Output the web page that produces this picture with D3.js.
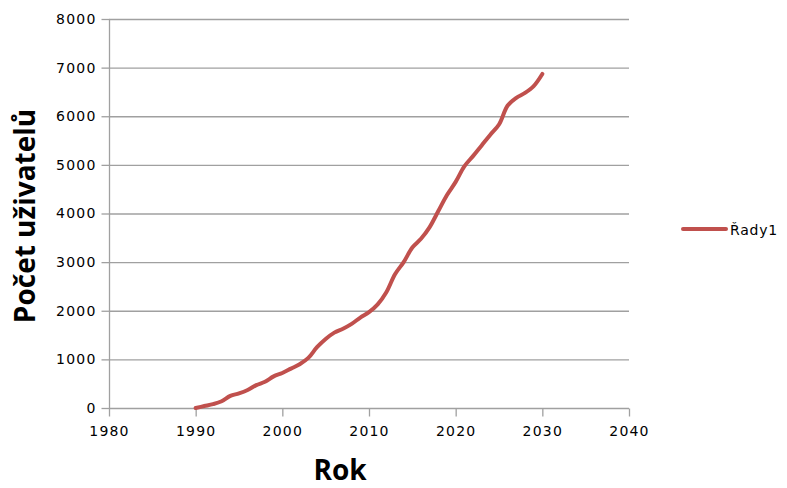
<!DOCTYPE html>
<html>
<head>
<meta charset="utf-8">
<script src="https://cdn.jsdelivr.net/npm/d3@7"></script>
<style>
  html, body { margin: 0; padding: 0; background: #fff; }
  svg { display: block; }
  .tick text { font-family: "DejaVu Sans", Verdana, sans-serif; font-size: 14px; letter-spacing: 1.2px; fill: #000; }
</style>
</head>
<body>
<svg id="chart" width="787" height="488"></svg>
<script>
// Yearly user counts
const years = [1990,1991,1992,1993,1994,1995,1996,1997,1998,1999,
               2000,2001,2002,2003,2004,2005,2006,2007,2008,2009,
               2010,2011,2012,2013,2014,2015,2016,2017,2018,2019,
               2020,2021,2022,2023,2024,2025,2026,2027,2028,2029,2030];
const users = [0,40,80,140,250,300,370,470,540,650,
               720,810,900,1030,1250,1420,1550,1630,1730,1860,
               1970,2130,2380,2750,3000,3300,3480,3720,4050,4380,
               4650,4970,5180,5400,5620,5830,6220,6380,6480,6620,6870];
const xTicks = [1980,1990,2000,2010,2020,2030,2040];
const yTicks = [0,1000,2000,3000,4000,5000,6000,7000,8000];
const seriesName = "Řady1";
const xTitle = "Rok";
const yTitle = "Počet uživatelů";

const svg = d3.select("#chart");
const plotLeft = 109, plotRight = 629, plotTop = 19, plotBottom = 408;
const red = "#C0504D", grid = "#A0A0A0";

const x = d3.scaleLinear().domain([1980, 2040]).range([plotLeft, plotRight]);
const y = d3.scaleLinear().domain([0, 8000]).range([plotBottom, plotTop]);

// horizontal gridlines
svg.append("g").selectAll("line").data(yTicks.slice(1)).join("line")
  .attr("x1", plotLeft).attr("x2", plotRight)
  .attr("y1", d => y(d) + 0.5).attr("y2", d => y(d) + 0.5)
  .attr("stroke", grid).attr("stroke-width", 1.3);

// y axis
const yAxis = svg.append("g").attr("transform", `translate(${plotLeft + 0.5},0)`)
  .call(d3.axisLeft(y).tickValues(yTicks).tickSize(8).tickPadding(5).tickFormat(d3.format("d")));
yAxis.selectAll("path, line").attr("stroke", grid).attr("stroke-width", 1.3);
yAxis.select(".domain").attr("d", `M0,${plotTop}V${plotBottom}`);

// x axis
const xAxis = svg.append("g").attr("transform", `translate(0,${plotBottom + 0.5})`)
  .call(d3.axisBottom(x).tickValues(xTicks).tickSize(8).tickPadding(10).tickFormat(d3.format("d")));
xAxis.selectAll("path, line").attr("stroke", grid).attr("stroke-width", 1.3);
xAxis.select(".domain").attr("d", `M${plotLeft},0H${plotRight}`);

// series line
const line = d3.line().x((d, i) => x(years[i])).y(d => y(d)).curve(d3.curveCatmullRom.alpha(0.5));
svg.append("path").datum(users)
  .attr("d", line)
  .attr("fill", "none").attr("stroke", red).attr("stroke-width", 4)
  .attr("stroke-linecap", "round").attr("stroke-linejoin", "round");

// axis titles
svg.append("text").attr("x", 340).attr("y", 480).attr("text-anchor", "middle")
  .attr("font-family", "'Open Sans', 'DejaVu Sans', sans-serif").attr("font-weight", "bold")
  .attr("font-size", 28).attr("fill", "#000").text(xTitle);
svg.append("text").attr("transform", "translate(35,216) rotate(-90)").attr("text-anchor", "middle")
  .attr("font-family", "'Open Sans', 'DejaVu Sans', sans-serif").attr("font-weight", "bold")
  .attr("font-size", 28).attr("fill", "#000").text(yTitle);

// legend
svg.append("line").attr("x1", 683).attr("x2", 726).attr("y1", 229).attr("y2", 229)
  .attr("stroke", red).attr("stroke-width", 4).attr("stroke-linecap", "round");
svg.append("text").attr("x", 730).attr("y", 235)
  .attr("font-family", "'DejaVu Sans', Verdana, sans-serif").attr("font-size", 14)
  .attr("letter-spacing", 0.8).attr("fill", "#000").text(seriesName);
</script>
</body>
</html>
